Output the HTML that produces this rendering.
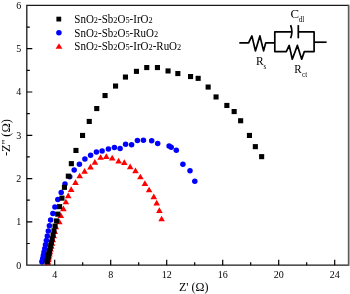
<!DOCTYPE html>
<html><head><meta charset="utf-8"><style>
html,body{margin:0;padding:0;background:#fff;}
svg{display:block;will-change:transform;}
text{font-family:"Liberation Serif",serif;fill:#000;}
</style></head><body>
<svg width="350" height="294" viewBox="0 0 350 294">
<rect width="350" height="294" fill="#fff"/>
<g fill="#ff0000"><path d="M161.6 215.7L164.9 221.3L158.3 221.3Z"/><path d="M159.4 207.3L162.7 213.0L156.1 213.0Z"/><path d="M156.7 199.8L160.0 205.5L153.4 205.5Z"/><path d="M153.8 193.5L157.1 199.2L150.5 199.2Z"/><path d="M149.1 186.7L152.4 192.3L145.8 192.3Z"/><path d="M144.9 180.3L148.2 186.0L141.6 186.0Z"/><path d="M140.4 173.7L143.7 179.3L137.1 179.3Z"/><path d="M135.5 167.6L138.8 173.2L132.2 173.2Z"/><path d="M130.2 163.5L133.5 169.2L126.9 169.2Z"/><path d="M124.3 159.3L127.6 165.0L121.0 165.0Z"/><path d="M118.6 157.8L121.9 163.4L115.3 163.4Z"/><path d="M112.2 154.8L115.5 160.4L108.9 160.4Z"/><path d="M106.3 153.2L109.6 158.9L103.0 158.9Z"/><path d="M100.6 154.2L103.9 159.8L97.3 159.8Z"/><path d="M94.9 159.0L98.2 164.7L91.6 164.7Z"/><path d="M90.5 163.8L93.8 169.5L87.2 169.5Z"/><path d="M84.6 168.1L87.9 173.8L81.3 173.8Z"/><path d="M79.7 172.7L83.0 178.3L76.4 178.3Z"/><path d="M75.5 179.3L78.8 185.0L72.2 185.0Z"/><path d="M71.2 186.2L74.5 191.9L67.9 191.9Z"/><path d="M68.2 192.6L71.5 198.2L64.9 198.2Z"/><path d="M65.9 198.7L69.2 204.3L62.6 204.3Z"/><path d="M63.4 205.5L66.7 211.2L60.1 211.2Z"/><path d="M60.8 212.3L64.1 218.0L57.5 218.0Z"/><path d="M59.3 218.5L62.6 224.2L56.0 224.2Z"/><path d="M55.8 223.5L59.1 229.2L52.5 229.2Z"/><path d="M54.7 228.3L58.0 234.0L51.4 234.0Z"/><path d="M53.7 232.6L57.0 238.3L50.4 238.3Z"/><path d="M52.8 236.5L56.1 242.2L49.5 242.2Z"/><path d="M52.0 240.0L55.3 245.7L48.7 245.7Z"/><path d="M51.3 243.1L54.6 248.8L48.0 248.8Z"/><path d="M50.6 245.9L53.9 251.6L47.3 251.6Z"/><path d="M50.0 248.5L53.3 254.2L46.7 254.2Z"/><path d="M49.5 250.8L52.8 256.5L46.2 256.5Z"/><path d="M49.0 252.9L52.3 258.6L45.7 258.6Z"/><path d="M48.6 254.7L51.9 260.4L45.3 260.4Z"/><path d="M48.2 256.4L51.5 262.1L44.9 262.1Z"/><path d="M47.8 258.0L51.1 263.7L44.5 263.7Z"/><path d="M47.5 259.3L50.8 265.1L44.2 265.1Z"/></g>
<g fill="#0000ff"><circle cx="194.8" cy="181.3" r="2.75"/><circle cx="190.0" cy="170.7" r="2.75"/><circle cx="182.9" cy="164.3" r="2.75"/><circle cx="176.3" cy="150.2" r="2.75"/><circle cx="171.2" cy="147.3" r="2.75"/><circle cx="169.1" cy="146.0" r="2.75"/><circle cx="157.7" cy="143.6" r="2.75"/><circle cx="151.7" cy="140.7" r="2.75"/><circle cx="143.4" cy="140.2" r="2.75"/><circle cx="137.4" cy="140.6" r="2.75"/><circle cx="131.6" cy="144.8" r="2.75"/><circle cx="125.6" cy="144.3" r="2.75"/><circle cx="120.1" cy="148.4" r="2.75"/><circle cx="114.4" cy="147.6" r="2.75"/><circle cx="108.4" cy="149.1" r="2.75"/><circle cx="102.1" cy="150.9" r="2.75"/><circle cx="96.4" cy="152.1" r="2.75"/><circle cx="90.6" cy="155.2" r="2.75"/><circle cx="84.9" cy="158.9" r="2.75"/><circle cx="79.4" cy="164.2" r="2.75"/><circle cx="74.2" cy="170.1" r="2.75"/><circle cx="69.8" cy="176.8" r="2.75"/><circle cx="65.0" cy="184.0" r="2.75"/><circle cx="61.2" cy="192.6" r="2.75"/><circle cx="57.8" cy="199.6" r="2.75"/><circle cx="54.9" cy="206.9" r="2.75"/><circle cx="52.9" cy="213.6" r="2.75"/><circle cx="50.6" cy="220.0" r="2.75"/><circle cx="49.4" cy="225.8" r="2.75"/><circle cx="48.3" cy="231.1" r="2.75"/><circle cx="47.3" cy="236.0" r="2.75"/><circle cx="46.4" cy="240.6" r="2.75"/><circle cx="45.5" cy="244.7" r="2.75"/><circle cx="44.8" cy="248.5" r="2.75"/><circle cx="44.0" cy="252.1" r="2.75"/><circle cx="43.4" cy="255.3" r="2.75"/><circle cx="42.8" cy="258.3" r="2.75"/><circle cx="42.2" cy="261.0" r="2.75"/><circle cx="42.0" cy="262.0" r="2.75"/></g>
<g fill="#000"><rect x="259.1" y="154.1" width="5.1" height="5.1"/><rect x="252.8" y="144.1" width="5.1" height="5.1"/><rect x="246.9" y="132.9" width="5.1" height="5.1"/><rect x="238.1" y="118.2" width="5.1" height="5.1"/><rect x="231.6" y="109.0" width="5.1" height="5.1"/><rect x="224.3" y="102.9" width="5.1" height="5.1"/><rect x="213.5" y="94.4" width="5.1" height="5.1"/><rect x="205.6" y="84.5" width="5.1" height="5.1"/><rect x="195.6" y="75.8" width="5.1" height="5.1"/><rect x="188.0" y="74.0" width="5.1" height="5.1"/><rect x="175.3" y="71.0" width="5.1" height="5.1"/><rect x="165.5" y="68.4" width="5.1" height="5.1"/><rect x="154.9" y="65.0" width="5.1" height="5.1"/><rect x="144.2" y="65.0" width="5.1" height="5.1"/><rect x="133.9" y="68.8" width="5.1" height="5.1"/><rect x="122.9" y="74.5" width="5.1" height="5.1"/><rect x="113.0" y="83.5" width="5.1" height="5.1"/><rect x="102.5" y="93.0" width="5.1" height="5.1"/><rect x="94.2" y="106.0" width="5.1" height="5.1"/><rect x="86.7" y="118.9" width="5.1" height="5.1"/><rect x="80.0" y="132.9" width="5.1" height="5.1"/><rect x="73.4" y="147.9" width="5.1" height="5.1"/><rect x="68.8" y="161.1" width="5.1" height="5.1"/><rect x="65.8" y="173.6" width="5.1" height="5.1"/><rect x="61.9" y="184.8" width="5.1" height="5.1"/><rect x="59.4" y="195.6" width="5.1" height="5.1"/><rect x="57.0" y="204.1" width="5.1" height="5.1"/><rect x="55.2" y="211.6" width="5.1" height="5.1"/><rect x="53.9" y="218.4" width="5.1" height="5.1"/><rect x="52.5" y="223.6" width="5.1" height="5.1"/><rect x="51.4" y="228.3" width="5.1" height="5.1"/><rect x="50.5" y="232.5" width="5.1" height="5.1"/><rect x="49.6" y="236.3" width="5.1" height="5.1"/><rect x="48.9" y="239.7" width="5.1" height="5.1"/><rect x="48.2" y="242.8" width="5.1" height="5.1"/><rect x="47.6" y="245.6" width="5.1" height="5.1"/><rect x="47.0" y="248.1" width="5.1" height="5.1"/><rect x="46.5" y="250.3" width="5.1" height="5.1"/><rect x="46.0" y="252.3" width="5.1" height="5.1"/><rect x="45.6" y="254.1" width="5.1" height="5.1"/><rect x="45.3" y="255.8" width="5.1" height="5.1"/><rect x="44.9" y="257.4" width="5.1" height="5.1"/><rect x="44.6" y="258.9" width="5.1" height="5.1"/></g>
<path d="M348.8 5.4H26.8V265.2H348.8" fill="none" stroke="#1a1a1a" stroke-width="1.3"/>
<rect x="347.8" y="4.800000000000001" width="1.7" height="261.0" fill="#5a5a5a"/>
<path d="M54.7 265.2V259.7M110.7 265.2V259.7M166.7 265.2V259.7M222.7 265.2V259.7M278.7 265.2V259.7M334.7 265.2V259.7M82.7 265.2V262.2M138.7 265.2V262.2M194.7 265.2V262.2M250.7 265.2V262.2M306.7 265.2V262.2M26.8 221.9H32.3M26.8 178.6H32.3M26.8 135.3H32.3M26.8 92.0H32.3M26.8 48.7H32.3M26.8 243.5H29.8M26.8 200.2H29.8M26.8 156.9H29.8M26.8 113.7H29.8M26.8 70.3H29.8M26.8 27.1H29.8" stroke="#000" stroke-width="1.2" fill="none"/>
<g font-size="10"><text x="54.7" y="278.2" text-anchor="middle">4</text><text x="110.7" y="278.2" text-anchor="middle">8</text><text x="166.7" y="278.2" text-anchor="middle">12</text><text x="222.7" y="278.2" text-anchor="middle">16</text><text x="278.7" y="278.2" text-anchor="middle">20</text><text x="334.7" y="278.2" text-anchor="middle">24</text><text x="21.3" y="268.6" text-anchor="end">0</text><text x="21.3" y="225.3" text-anchor="end">1</text><text x="21.3" y="182.0" text-anchor="end">2</text><text x="21.3" y="138.7" text-anchor="end">3</text><text x="21.3" y="95.4" text-anchor="end">4</text><text x="21.3" y="52.1" text-anchor="end">5</text><text x="21.3" y="8.8" text-anchor="end">6</text></g>
<text x="179" y="290.5" font-size="12">Z' (&#937;)</text>
<text transform="translate(10.2,137.6) rotate(-90)" text-anchor="middle" font-size="12.5">-Z'' (&#937;)</text>
<!-- legend -->
<rect x="56.4" y="16.7" width="4.8" height="4.8" fill="#000"/>
<circle cx="58.9" cy="32.8" r="2.75" fill="#0000ff"/>
<path d="M59 43.2L62.4 48.8L55.6 48.8Z" fill="#ff0000"/>
<g font-size="11">
<text transform="translate(74.3,22.75) scale(1,1.06)">SnO<tspan font-size="8.3">2</tspan>-Sb<tspan font-size="8.3">2</tspan>O<tspan font-size="8.3">5</tspan>-IrO<tspan font-size="8.3">2</tspan></text>
<text transform="translate(74.3,36.7) scale(1,1.06)">SnO<tspan font-size="8.3">2</tspan>-Sb<tspan font-size="8.3">2</tspan>O<tspan font-size="8.3">5</tspan>-RuO<tspan font-size="8.3">2</tspan></text>
<text transform="translate(74.3,50.4) scale(1,1.06)">SnO<tspan font-size="8.3">2</tspan>-Sb<tspan font-size="8.3">2</tspan>O<tspan font-size="8.3">5</tspan>-IrO<tspan font-size="8.3">2</tspan>-RuO<tspan font-size="8.3">2</tspan></text>
</g>
<!-- circuit -->
<g fill="none" stroke="#000" stroke-width="1.7" stroke-linejoin="round" stroke-linecap="butt">
<path d="M239.3 42.9H248.6L251.9 35.9L255.4 50.9L259.9 35.9L263.6 50.9L265.7 42.9H274.8"/>
<path d="M291.2 31.9H274.8V51.6H286.3L289.2 45.4L292.3 59.2L297.4 45.4L301.7 59.2L304.3 51.6H314.1V31.9H298.3"/>
<path d="M298.3 25.1V38.3"/>
<path d="M290.6 25.1Q293.2 31.7 290.6 38.3"/>
<path d="M314.1 42.2H326.6"/>
</g>
<text transform="translate(256.0,64.7) scale(0.9,1)" font-size="12.8">R</text><text transform="translate(263.4,69.4) scale(0.9,1)" font-size="8">s</text>
<text x="290.6" y="18" font-size="12.8">C</text><text x="298.7" y="22.1" font-size="7.2">dl</text>
<text transform="translate(294.3,72.7) scale(0.9,1)" font-size="12.3">R</text><text transform="translate(302,77.4) scale(0.95,1)" font-size="7.5">ct</text>
</svg>
</body></html>
